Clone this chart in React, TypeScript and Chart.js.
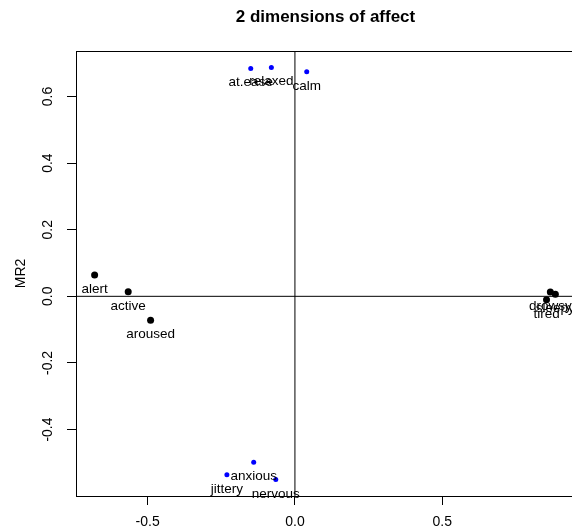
import React, { useEffect, useRef } from "react";
import { Chart, registerables } from "chart.js";

Chart.register(...registerables);

// ---- data ----
const energyLabels = ["active", "alert", "aroused", "sleepy", "tired", "drowsy"];
const energyX = [-0.566, -0.68, -0.49, 0.884, 0.854, 0.867];
const energyY = [0.014, 0.064, -0.072, 0.006, -0.01, 0.013];

const tensionLabels = ["anxious", "jittery", "nervous", "calm", "relaxed", "at.ease"];
const tensionX = [-0.14, -0.231, -0.065, 0.04, -0.08, -0.15];
const tensionY = [-0.498, -0.536, -0.55, 0.674, 0.687, 0.684];

const xRange = [-0.7432, 0.9507];
const yRange = [-0.5995, 0.7365];
const xTicks = [-0.5, 0, 0.5];
const yTicks = [-0.4, -0.2, 0, 0.2, 0.4, 0.6];

const chartTitle = "2 dimensions of affect";
const yTitle = "MR2";

const FONT = "'Liberation Sans', Arial, Helvetica, sans-serif";

const rPlugin = {
  id: "rstyle",
  beforeDatasetsDraw(chart: any) {
    const { ctx, chartArea: a, scales } = chart;
    const x = scales.x;
    const y = scales.y;
    ctx.save();
    ctx.strokeStyle = "#000";
    ctx.lineWidth = 1;
    const x0 = x.getPixelForValue(0);
    const y0 = y.getPixelForValue(0);
    ctx.beginPath();
    ctx.moveTo(x0, a.top);
    ctx.lineTo(x0, a.bottom);
    ctx.moveTo(a.left, y0);
    ctx.lineTo(a.right, y0);
    ctx.stroke();
    // top and right border of box
    ctx.beginPath();
    ctx.moveTo(a.left, Math.round(a.top) + 0.5);
    ctx.lineTo(a.right - 0.5, Math.round(a.top) + 0.5);
    ctx.lineTo(a.right - 0.5, a.bottom);
    ctx.stroke();
    ctx.restore();
  },
  afterDatasetsDraw(chart: any) {
    const { ctx } = chart;
    ctx.save();
    ctx.fillStyle = "#000";
    ctx.font = `13.5px ${FONT}`;
    ctx.textAlign = "center";
    ctx.textBaseline = "alphabetic";
    chart.data.datasets.forEach((ds: any, di: number) => {
      const meta = chart.getDatasetMeta(di);
      meta.data.forEach((pt: any, i: number) => {
        ctx.fillText(ds.pointNames[i], pt.x, pt.y + 18);
      });
    });
    ctx.restore();
  },
  afterDraw(chart: any) {
    const { ctx, chartArea: a, scales } = chart;
    const x = scales.x;
    const y = scales.y;
    ctx.save();
    ctx.fillStyle = "#000";
    // title
    ctx.font = `bold 17px ${FONT}`;
    ctx.textAlign = "center";
    ctx.textBaseline = "middle";
    ctx.fillText(chartTitle, (a.left + a.right) / 2, 17);
    // x tick labels
    ctx.font = `14px ${FONT}`;
    x.ticks.forEach((t: any) => {
      ctx.fillText(t.value.toFixed(1), x.getPixelForValue(t.value), 522);
    });
    // y tick labels (rotated)
    y.ticks.forEach((t: any) => {
      ctx.save();
      ctx.translate(48, y.getPixelForValue(t.value));
      ctx.rotate(-Math.PI / 2);
      ctx.fillText(t.value.toFixed(1), 0, 0);
      ctx.restore();
    });
    // y title
    ctx.font = `14px ${FONT}`;
    ctx.save();
    ctx.translate(21, (a.top + a.bottom) / 2);
    ctx.rotate(-Math.PI / 2);
    ctx.fillText(yTitle, 0, 0);
    ctx.restore();
    ctx.restore();
  },
};

export default function App() {
  const ref = useRef<HTMLCanvasElement | null>(null);
  useEffect(() => {
    if (!ref.current) return;
    const axisCommon = {
      type: "linear" as const,
      bounds: "data" as const,
      grid: {
        display: true,
        drawOnChartArea: false,
        drawTicks: true,
        tickLength: 9,
        color: "#000",
        lineWidth: 1,
      },
      border: { display: true, color: "#000", width: 1 },
    };
    const chart = new Chart(ref.current, {
      type: "scatter",
      data: {
        datasets: [
          {
            label: "energy",
            data: energyX.map((v, i) => ({ x: v, y: energyY[i] })),
            pointNames: energyLabels,
            backgroundColor: "#000",
            borderColor: "#000",
            pointRadius: 3.5,
            pointBorderWidth: 0,
          } as any,
          {
            label: "tension",
            data: tensionX.map((v, i) => ({ x: v, y: tensionY[i] })),
            pointNames: tensionLabels,
            backgroundColor: "#0000ff",
            borderColor: "#0000ff",
            pointRadius: 2.5,
            pointBorderWidth: 0,
          } as any,
        ],
      },
      options: {
        animation: false,
        responsive: false,
        maintainAspectRatio: false,
        layout: { autoPadding: false, padding: { top: 51, left: 0, right: 0, bottom: 0 } },
        plugins: {
          legend: { display: false },
          tooltip: { enabled: false },
          title: { display: false },
        },
        scales: {
          x: {
            ...axisCommon,
            min: xRange[0],
            max: xRange[1],
            ticks: { display: false },
            afterBuildTicks: (s: any) => {
              s.ticks = xTicks.map((v) => ({ value: v }));
            },
            afterFit: (s: any) => {
              s.height = 32;
            },
          },
          y: {
            ...axisCommon,
            min: yRange[0],
            max: yRange[1],
            ticks: { display: false },
            afterBuildTicks: (s: any) => {
              s.ticks = yTicks.map((v) => ({ value: v }));
            },
            afterFit: (s: any) => {
              s.width = 76;
            },
          },
        },
      },
      plugins: [rPlugin],
    });
    return () => chart.destroy();
  }, []);
  return (
    <div
      style={{
        position: "fixed",
        left: 0,
        top: 0,
        width: 572,
        height: 528,
        overflow: "hidden",
        background: "#fff",
      }}
    >
      <canvas ref={ref} width={575} height={528} style={{ display: "block" }} />
    </div>
  );
}
